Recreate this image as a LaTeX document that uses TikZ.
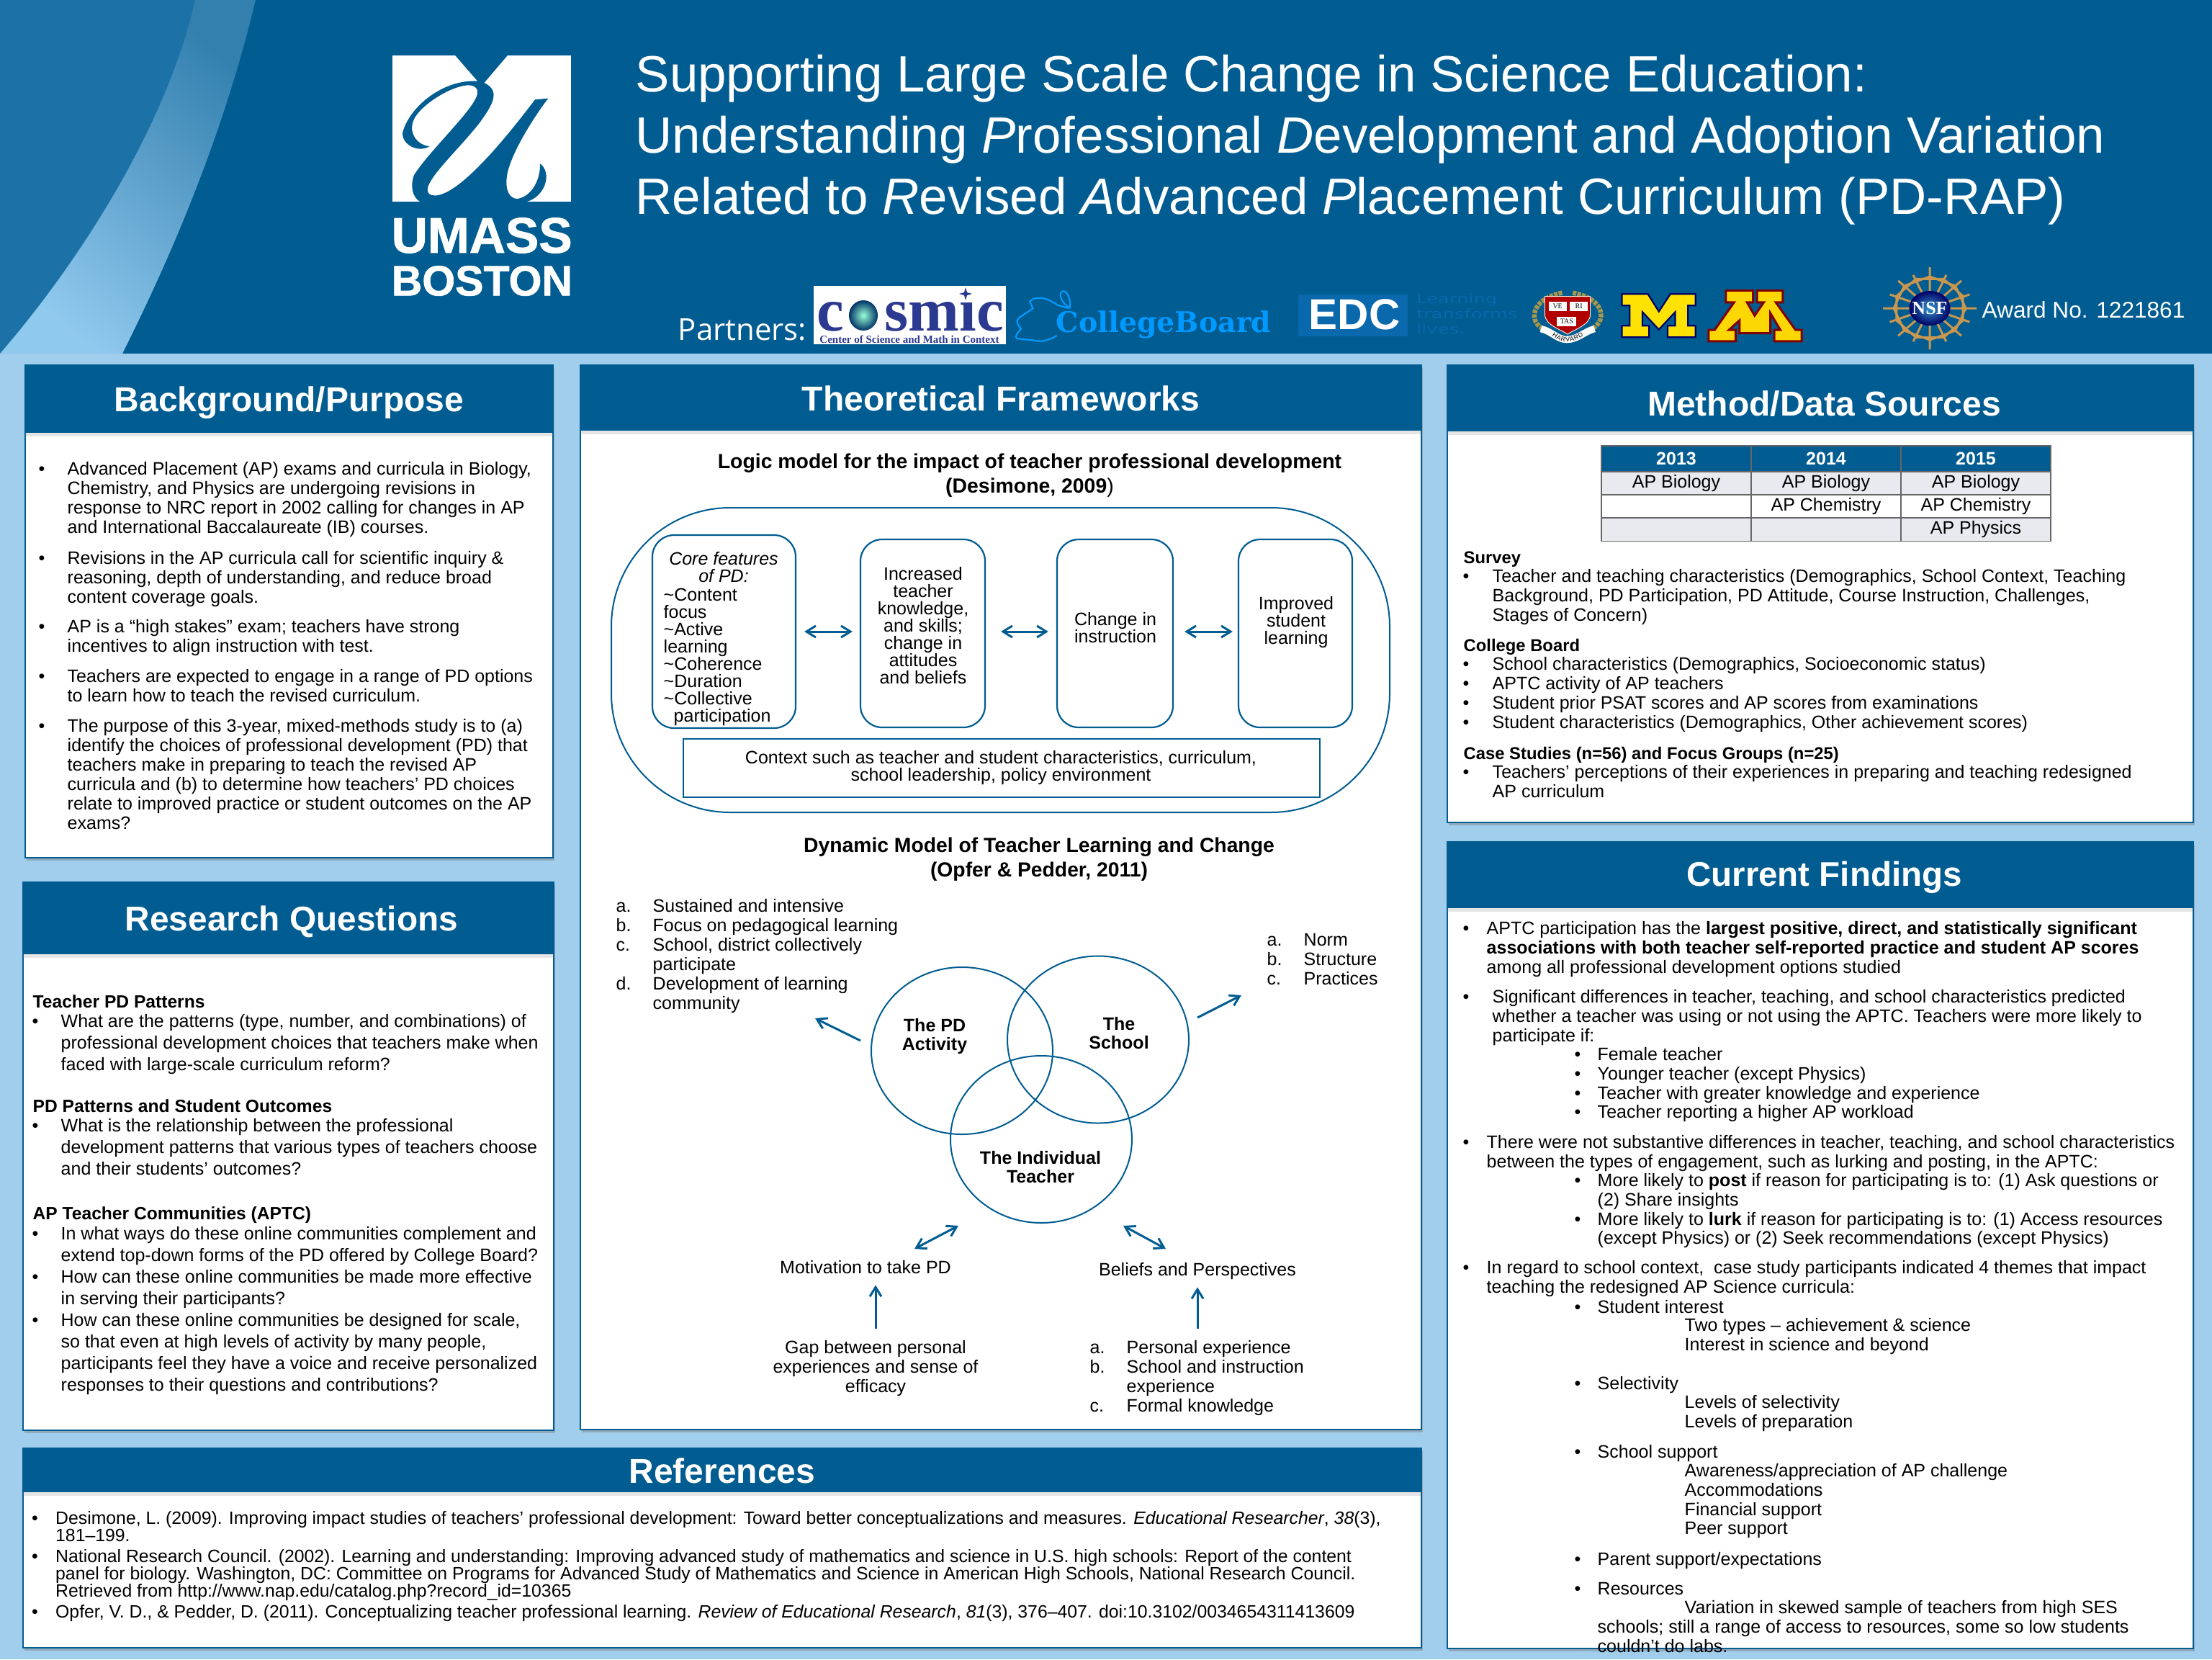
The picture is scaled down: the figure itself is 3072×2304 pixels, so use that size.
\documentclass[tikz,border=0pt]{standalone}
\usepackage{fontspec}
\setmainfont{Liberation Sans}
\newfontfamily\partnerfont{Open Sans}
\newfontfamily\timesfont{Liberation Serif}
\newfontfamily\cbfont{DejaVu Serif}
\newfontfamily\widefont{DejaVu Sans}
\newfontfamily\heavyfont[FakeBold=1.2]{Liberation Sans}
\usetikzlibrary{positioning,shapes.geometric,arrows.meta,shadows,decorations.text}
\definecolor{umblue}{HTML}{005C91}
\definecolor{skyback}{HTML}{A0CEEC}
\definecolor{curtain}{HTML}{1C72A6}
\definecolor{cellgrey}{HTML}{E8EAEF}
\definecolor{cosmicblue}{HTML}{2B3990}
\definecolor{cbblue}{HTML}{0099FF}
\definecolor{edcblue}{HTML}{0A68AC}
\definecolor{nsfgold}{HTML}{C9974F}
\newlength\pxx
\setlength\pxx{0.1mm}
\newcommand{\pxf}[2]{\fontsize{\the\dimexpr#1\pxx\relax}{\the\dimexpr#2\pxx\relax}\selectfont}
\newcommand{\bl}[1][40]{\llap{\hbox to #1\pxx{\textbullet\hss}}}
\newcommand{\tagit}[1]{\llap{\hbox to 51\pxx{#1\hss}}}
\newcommand{\hvfont}{\pxf{9}{9}}
\begin{document}
\begin{tikzpicture}[x=0.1mm,y=-0.1mm,node distance={20.8mm},
    panel/.style = {draw=umblue, fill=white, line width=0.15mm, inner sep=0, drop shadow={shadow xshift=0.15mm, shadow yshift=-0.4mm, opacity=.45}},
    headbar/.style = {fill=umblue, text=white, inner sep=0, text height=4.2mm, text depth=0.7mm, drop shadow={shadow xshift=0mm, shadow yshift=-0.5mm, opacity=.2}},
    txt/.style = {anchor=north west, align=left, inner sep=0, execute at begin node=\strut},
    ctr/.style = {anchor=north, align=center, inner sep=0, execute at begin node=\strut},
    bgt/.style = {txt, font=\pxf{25}{27}},
    rqt/.style = {txt, font=\pxf{25}{30}},
    rqh/.style = {txt, font=\bfseries\pxf{24.6}{30}},
    met/.style = {txt, font=\pxf{25}{27}},
    meh/.style = {txt, font=\bfseries\pxf{23.8}{27}},
    fin/.style = {txt, font=\pxf{25}{26.6}},
    reft/.style = {txt, font=\pxf{24.8}{24}},
    lst/.style = {txt, font=\pxf{25}{27}},
    box/.style = {draw=umblue, line width=0.22mm, rounded corners=3mm, inner sep=0},
    boxt/.style = {ctr, font=\pxf{25}{24}},
    venn/.style = {draw=umblue, ellipse, line width=0.2mm, minimum width=25.2mm, minimum height=23.2mm, inner sep=0},
    vennt/.style = {ctr, font=\bfseries\pxf{25}{26}},
    cell/.style = {draw=black!60, line width=0.15mm, minimum width=20.8mm, minimum height=3.2mm, inner sep=0, font=\pxf{25}{27}},
    hcell/.style = {cell, fill=umblue, text=white, minimum height=3.6mm, font=\bfseries\pxf{25}{27}},
    gcell/.style = {cell, fill=cellgrey},
    arr/.style = {draw=umblue, line width=0.3mm, -{Straight Barb[length=1.3mm,width=1.6mm]}},
    dub/.style = {draw=umblue, line width=0.3mm, {Straight Barb[length=1.3mm,width=1.6mm]}-{Straight Barb[length=1.3mm,width=1.6mm]}},
    cosmictxt/.style = {inner sep=0, text=cosmicblue, font=\timesfont\bfseries\pxf{85}{85}}]

    \useasboundingbox (0,0) rectangle (3072,2304);
    \fill[skyback] (0,0) rectangle (3072,2304);
    \fill[umblue] (0,0) rectangle (3072,491);

    % curtain
    \fill[curtain] (0,0) -- (271,0) .. controls (230,180) and (105,370) .. (0,491) -- cycle;
    \shade[bottom color=skyback!90!cbblue, top color=curtain!90!white, shading angle=-40]
        (271,0) -- (355,0) .. controls (300,230) and (205,420) .. (170,491) -- (0,491) .. controls (105,370) and (230,180) .. (271,0) -- cycle;

    % logo
    \fill[white] (545,77) rectangle (793,280);
    \begin{scope}[shift={(540,70)},x=0.0333mm,y=-0.0333mm]
        \fill[umblue] (370,128) .. controls (230,120) and (90,230) .. (58,340)
            .. controls (50,390) and (120,430) .. (170,400) .. controls (120,395) and (85,350) .. (100,300)
            .. controls (115,240) and (250,150) .. (330,145) .. controls (370,145) and (380,170) .. (360,205)
            .. controls (320,280) and (170,420) .. (105,520) .. controls (90,560) and (95,610) .. (130,631)
            -- (575,631) .. controls (630,615) and (665,560) .. (655,510) .. controls (650,490) and (640,478) .. (630,472)
            .. controls (635,530) and (600,610) .. (535,619) .. controls (490,615) and (485,560) .. (495,510)
            .. controls (515,420) and (610,270) .. (665,200) -- (610,205)
            .. controls (530,310) and (300,610) .. (190,605) .. controls (155,605) and (155,575) .. (175,545)
            .. controls (205,490) and (310,390) .. (380,300) .. controls (430,230) and (470,170) .. (398,135)
            -- (495,21) -- (277,21) -- cycle;
    \end{scope}
    \node[inner sep=0, anchor=west, text=white, font=\heavyfont\bfseries\pxf{69.5}{68}] (umass) at (543,327) {UMASS};
    \node[inner sep=0, anchor=west, text=white, font=\heavyfont\bfseries\pxf{59}{58}] (boston) at (543,390) {BOSTON};

    % title
    \node[txt, text=white, font=\pxf{70.9}{85}] (title) at (882,75.5) {Supporting Large Scale Change in Science Education:\\
        Understanding \textit{P}rofessional \textit{D}evelopment and Adoption Variation\\
        Related to \textit{R}evised \textit{A}dvanced \textit{P}lacement Curriculum (PD-RAP)};

    % partners
    \node[inner sep=0, anchor=west, text=white, font=\partnerfont\pxf{42}{42}] (partners) at (941,458) {Partners:};
    \fill[white] (1130,397) rectangle (1397,478);
    \node[cosmictxt, anchor=base west] (cosc) at (1134,459) {c};
    \node[cosmictxt, anchor=base west] (cosm) at (1228,459) {sm\i c};
    \shade[inner color=green!40!cyan!40!white, outer color=blue!50!black!80!green] (1199,438) ellipse (20 and 21);
    \fill[cosmicblue] (1341,399) -- (1343,406) -- (1350,408) -- (1343,410) -- (1341,417) -- (1339,410) -- (1332,408) -- (1339,406) -- cycle;
    \node[inner sep=0, text=cosmicblue, font=\timesfont\bfseries\pxf{15}{15}] (cosmictag) at (1263,471) {Center of Science and Math in Context};
    \begin{scope}[shift={(1120,385)},x=0.0421mm,y=-0.0333mm]
        \draw[cbblue, line width=0.22mm] (826,243) .. controls (800,265) and (770,272) .. (745,262) -- (695,256)
            .. controls (688,250) and (690,240) .. (708,215) .. controls (695,195) and (690,185) .. (700,170) -- (747,130) -- (737,102)
            .. controls (745,85) and (775,80) .. (800,95) .. controls (820,110) and (840,125) .. (868,128)
            .. controls (875,95) and (860,58) .. (848,58) .. controls (830,60) and (835,100) .. (868,128);
    \end{scope}
    \node[inner sep=0, anchor=base west, text=cbblue, font=\cbfont\bfseries\pxf{39.4}{39}] (cb) at (1466,461) {CollegeBoard};
    \fill[edcblue] (1803,409) rectangle (1955,467);
    \node[inner sep=0, text=white, font=\bfseries\pxf{60}{60}] (edc) at (1881,437) {EDC};
    \node[txt, text=edcblue, xscale=1.44, transform shape, font=\widefont\pxf{18}{21}] (edcline) at (1966,407) {Learning\\transforms\\lives.};

    % harvard
    \begin{scope}[shift={(2100,365)},x=0.0421mm,y=-0.0333mm]
        \draw[draw=black!45!yellow!70!brown, line width=0.65mm, dash pattern=on 0.5mm off 0.15mm] (165,125) .. controls (60,150) and (50,250) .. (110,280);
        \draw[draw=black!45!yellow!70!brown, line width=0.65mm, dash pattern=on 0.5mm off 0.15mm] (200,125) .. controls (310,150) and (315,250) .. (255,280);
        \filldraw[fill=red!70!black, draw=white!80!brown, line width=0.1mm] (108,140) -- (258,140) -- (258,215) .. controls (258,260) and (200,280) .. (183,298)
            .. controls (165,280) and (108,260) .. (108,215) -- cycle;
        \fill[white] (120,162) rectangle (180,200);
        \fill[white] (190,162) rectangle (250,200);
        \fill[white] (148,224) rectangle (212,265);
        \node[inner sep=0, font=\timesfont\pxf{10}{10}] (ve) at (150,181) {VE};
        \node[inner sep=0, font=\timesfont\pxf{10}{10}] (ri) at (220,181) {RI};
        \node[inner sep=0, font=\timesfont\pxf{10}{10}] (tas) at (180,244) {TAS};
        \draw[white, line width=0.95mm] (95,275) .. controls (130,285) and (150,320) .. (180,320) .. controls (215,320) and (240,285) .. (272,275);
        \path[decorate, decoration={text along path, text={|\hvfont|HARVARD}, text align=center, raise=-0.3mm}] (95,275) .. controls (130,285) and (150,320) .. (180,320) .. controls (215,320) and (240,285) .. (272,275);

        % michigan
        \filldraw[fill=yellow!85!orange, draw=blue!40!black, line width=0.22mm] (362,130) -- (448,130) -- (484,203) -- (522,130) -- (605,130) -- (605,178) -- (580,178) -- (580,262)
            -- (605,262) -- (605,310) -- (513,310) -- (513,262) -- (538,262) -- (538,205) -- (484,278) -- (430,205) -- (430,262) -- (452,262) -- (452,310)
            -- (362,310) -- (362,262) -- (388,262) -- (388,178) -- (362,178) -- cycle;

        % minnesota
        \filldraw[fill=yellow!75!orange, draw=red!50!black, line width=0.3mm] (705,115) -- (795,115) -- (795,165) -- (775,165) -- (800,220) -- (830,165) -- (808,165) -- (808,115) -- (893,115)
            -- (893,165) -- (870,165) -- (935,280) -- (955,280) -- (955,327) -- (865,327) -- (865,280) -- (885,280) -- (852,210) -- (852,293) -- (750,293) -- (750,240)
            -- (715,280) -- (737,280) -- (737,327) -- (648,327) -- (648,280) -- (668,280) -- (732,165) -- (705,165) -- cycle;
    \end{scope}

    % nsf
    \begin{scope}[shift={(2680,428)}]
        \draw[nsfgold, line width=0.3mm] (0:65 and 57) -- (180:65 and 57) (22.5:60 and 50) -- (202.5:60 and 50) (45:62 and 54) -- (225:62 and 54) (67.5:60 and 50) -- (247.5:60 and 50)
            (90:65 and 57) -- (270:65 and 57) (112.5:60 and 50) -- (292.5:60 and 50) (135:62 and 54) -- (315:62 and 54) (157.5:60 and 50) -- (337.5:60 and 50);
        \draw[nsfgold, line width=0.3mm] (0:50 and 44) -- (45:50 and 44) -- (90:50 and 44) -- (135:50 and 44) -- (180:50 and 44) -- (225:50 and 44) -- (270:50 and 44) -- (315:50 and 44) -- cycle;
        \draw[nsfgold, line width=0.3mm] (22.5:50 and 44) -- (67.5:50 and 44) -- (112.5:50 and 44) -- (157.5:50 and 44) -- (202.5:50 and 44) -- (247.5:50 and 44) -- (292.5:50 and 44) -- (337.5:50 and 44) -- cycle;
        \shade[inner color=blue!35!cyan!60!gray, outer color=blue!40!black] (0,0) ellipse (28.5 and 24);
        \node[inner sep=0, text=white, font=\timesfont\bfseries\pxf{26}{26}] (nsf) at (0,0) {NSF};
    \end{scope}
    \node[inner sep=0, anchor=west, text=white, font=\pxf{31.6}{31}] (award) at (2752,430) {Award No. 1221861};

    % background panel
    \node[panel, minimum width=73.3mm, minimum height=68.4mm] (bg) at (401.5,849) {};
    \node[headbar, minimum width=73.3mm, minimum height=9.4mm, font=\bfseries\pxf{48}{50}] (bghead) at (401.5,554) {Background/Purpose};
    \node[bgt] (b1) at (93,641) {\bl Advanced Placement (AP) exams and curricula in Biology,\\Chemistry, and Physics are undergoing revisions in\\response to NRC report in 2002 calling for changes in AP\\and International Baccalaureate (IB) courses.};
    \node[bgt] (b2) at (93,764.5) {\bl Revisions in the AP curricula call for scientific inquiry \&\\reasoning, depth of understanding, and reduce broad\\content coverage goals.};
    \node[bgt] (b3) at (93,859.5) {\bl AP is a “high stakes” exam; teachers have strong\\incentives to align instruction with test.};
    \node[bgt] (b4) at (93,928.4) {\bl Teachers are expected to engage in a range of PD options\\to learn how to teach the revised curriculum.};
    \node[bgt] (b5) at (93,997.7) {\bl The purpose of this 3-year, mixed-methods study is to (a)\\identify the choices of professional development (PD) that\\teachers make in preparing to teach the revised AP\\curricula and (b) to determine how teachers’ PD choices\\relate to improved practice or student outcomes on the AP\\exams?};

    % research questions panel
    \node[panel, minimum width=73.7mm, minimum height=76.1mm] (rq) at (400.5,1605.5) {};
    \node[headbar, minimum width=73.7mm, minimum height=10mm, font=\bfseries\pxf{47.8}{50}] (rqhead) at (400.5,1275) {\hspace*{0.9mm}Research Questions};
    \node[rqh] (r1) at (45,1378) {Teacher PD Patterns};
    \node[rqt] (r2) at (84,1408) {\bl What are the patterns (type, number, and combinations) of\\professional development choices that teachers make when\\faced with large-scale curriculum reform?};
    \node[rqh] (r3) at (45,1523) {PD Patterns and Student Outcomes};
    \node[rqt] (r4) at (84,1553) {\bl What is the relationship between the professional\\development patterns that various types of teachers choose\\and their students’ outcomes?};
    \node[rqh] (r5) at (45,1672) {AP Teacher Communities (APTC)};
    \node[rqt] (r6) at (84,1703) {\bl In what ways do these online communities complement and\\extend top-down forms of the PD offered by College Board?\\\bl How can these online communities be made more effective\\in serving their participants?\\\bl How can these online communities be designed for scale,\\so that even at high levels of activity by many people,\\participants feel they have a voice and receive personalized\\responses to their questions and contributions?};

    % frameworks panel
    \node[panel, minimum width=116.8mm, minimum height=147.8mm] (tf) at (1390,1246) {};
    \node[headbar, minimum width=116.8mm, minimum height=9.1mm, font=\bfseries\pxf{48}{50}] (tfhead) at (1390,552.5) {Theoretical Frameworks};
    \node[ctr, font=\bfseries\pxf{28.4}{34}] (logic) at (1430,629) {Logic model for the impact of teacher professional development\\(Desimone, 2009{\mdseries)}};

    \node[draw=umblue, line width=0.2mm, rounded corners=16.5mm, minimum width=108.1mm, minimum height=42.3mm, inner sep=0] (outer) at (1389.5,916.5) {};
    \node[box, minimum width=19.9mm, minimum height=26.8mm] (core) at (1005.5,877) {};
    \node[box, minimum width=17.3mm, minimum height=26.1mm] (know) at (1281.5,879.5) {};
    \node[box, minimum width=16.1mm, minimum height=26.1mm] (change) at (1548.5,879.5) {};
    \node[box, minimum width=15.8mm, minimum height=26.1mm] (improved) at (1799,879.5) {};
    \node[draw=umblue, line width=0.13mm, minimum width=88.4mm, minimum height=8.1mm, inner sep=0] (context) at (1391,1066.5) {};

    \node[boxt, font=\itshape\pxf{25}{24}] (coretop) at (1005,766) {Core features\\of PD:};
    \node[boxt, anchor=north west, align=left] (corelist) at (921,816) {\textasciitilde Content\\focus\\\textasciitilde Active\\learning\\\textasciitilde Coherence\\\textasciitilde Duration\\\textasciitilde Collective\\\hspace*{14\pxx}participation};
    \node[boxt] (knowt) at (1282,787) {Increased\\teacher\\knowledge,\\and skills;\\change in\\attitudes\\and beliefs};
    \node[boxt] (changet) at (1549,850) {Change in\\instruction};
    \node[boxt] (improvedt) at (1800,828) {Improved\\student\\learning};
    \node[boxt, font=\pxf{25}{24}] (contextt) at (1390,1042) {Context such as teacher and student characteristics, curriculum,\\school leadership, policy environment};

    \draw[dub, shorten <=1.1mm, shorten >=1mm] (core.east) -- (core.east -| know.west);
    \draw[dub, shorten <=2.1mm, shorten >=1.1mm] (know.east |- core.east) -- (change.west |- core.east);
    \draw[dub, shorten <=1.5mm, shorten >=0.7mm] (change.east |- core.east) -- (improved.west |- core.east);

    \node[ctr, font=\bfseries\pxf{28.3}{34}] (dynamic) at (1443,1162) {Dynamic Model of Teacher Learning and Change\\(Opfer \& Pedder, 2011)};

    \node[lst] (pdlist) at (906,1248) {\tagit{a.}Sustained and intensive\\\tagit{b.}Focus on pedagogical learning\\\tagit{c.}School, district collectively\\participate\\\tagit{d.}Development of learning\\community};
    \node[lst] (schoollist) at (1810,1296) {\tagit{a.}Norm\\\tagit{b.}Structure\\\tagit{c.}Practices};

    \node[venn] (pd) at (1336,1459) {};
    \node[venn] (school) at (1525,1443.5) {};
    \node[venn] (teacher) at (1446,1582) {};
    \node[vennt] (pdt) at (1298,1414) {The PD\\Activity};
    \node[vennt] (schoolt) at (1554,1412) {The\\School};
    \node[vennt] (teachert) at (1445,1598) {The Individual\\Teacher};

    \coordinate (pdout) at (1195,1445);
    \coordinate (pdtip) at (1132,1414);
    \coordinate (schoolout) at (1663,1413);
    \coordinate (schooltip) at (1724,1382);
    \coordinate (motivtip) at (1270,1734);
    \coordinate (teachl) at (1331,1702);
    \coordinate (teachr) at (1560,1702);
    \coordinate (belieftip) at (1619,1734);
    \draw[arr] (pdout) -- (pdtip);
    \draw[arr] (schoolout) -- (schooltip);
    \draw[dub] (teachl) -- (motivtip);
    \draw[dub] (teachr) -- (belieftip);

    \node[ctr, font=\pxf{25}{27}] (motiv) at (1202,1749) {Motivation to take PD};
    \node[ctr, font=\pxf{25}{27}] (beliefs) at (1663,1752) {Beliefs and Perspectives};
    \node[ctr, font=\pxf{25}{27}] (gap) at (1216,1861) {Gap between personal\\experiences and sense of\\efficacy};
    \node[lst] (beliefslist) at (1564,1861) {\tagit{a.}Personal experience\\\tagit{b.}School and instruction\\experience\\\tagit{c.}Formal knowledge};
    \draw[arr, shorten <=1.6mm, shorten >=0.7mm] (gap.north) -- (gap.north |- motiv.south);
    \draw[arr, shorten <=1.6mm, shorten >=0.7mm] (beliefs.south |- beliefslist.north) -- (beliefs.south);

    % method panel
    \node[panel, minimum width=103.6mm, minimum height=63.5mm] (me) at (2528,824.5) {};
    \node[headbar, minimum width=103.6mm, minimum height=9.2mm, font=\bfseries\pxf{48}{50}] (mehead) at (2528,553) {\raisebox{-0.7mm}{\hspace*{1.1mm}Method/Data Sources}};

    \node[hcell] (c1) at (2328,637) {2013};
    \node[hcell] (c2) [right of=c1] {2014};
    \node[hcell] (c3) [right of=c2] {2015};
    \node[gcell] (d1) at (2328,671) {AP Biology};
    \node[gcell] (d2) [right of=d1] {AP Biology};
    \node[gcell] (d3) [right of=d2] {AP Biology};
    \node[cell] (e1) at (2328,703) {};
    \node[cell] (e2) [right of=e1] {AP Chemistry};
    \node[cell] (e3) [right of=e2] {AP Chemistry};
    \node[gcell] (f1) at (2328,735.5) {};
    \node[gcell] (f2) [right of=f1] {};
    \node[gcell] (f3) [right of=f2] {AP Physics};

    \node[meh] (m1) at (2032,763) {Survey};
    \node[met] (m2) at (2072,789.5) {\bl[41]Teacher and teaching characteristics (Demographics, School Context, Teaching\\Background, PD Participation, PD Attitude, Course Instruction, Challenges,\\Stages of Concern)};
    \node[meh] (m3) at (2032,885) {College Board};
    \node[met] (m4) at (2072,912) {\bl[41]School characteristics (Demographics, Socioeconomic status)\\\bl[41]APTC activity of AP teachers\\\bl[41]Student prior PSAT scores and AP scores from examinations\\\bl[41]Student characteristics (Demographics, Other achievement scores)};
    \node[meh] (m5) at (2032,1034.5) {Case Studies (n=56) and Focus Groups (n=25)};
    \node[met] (m6) at (2072,1061.4) {\bl[41]Teachers’ perceptions of their experiences in preparing and teaching redesigned\\AP curriculum};

    % findings panel
    \node[panel, minimum width=103.6mm, minimum height=112mm] (fi) at (2528,1729) {};
    \node[headbar, minimum width=103.6mm, minimum height=9.2mm, font=\bfseries\pxf{47.5}{50}] (fihead) at (2528,1215) {\raisebox{0.2mm}{\hspace*{1.1mm}Current Findings}};
    \node[fin] (s1) at (2064,1279) {\bl[33]APTC participation has the \textbf{largest positive, direct, and statistically significant}\\\textbf{associations with both teacher self-reported practice and student AP scores}\\among all professional development options studied};
    \node[fin] (s2) at (2072,1374) {\bl[41]Significant differences in teacher, teaching, and school characteristics predicted\\whether a teacher was using or not using the APTC. Teachers were more likely to\\participate if:};
    \node[fin] (s3) at (2218,1454) {\bl[32]Female teacher\\\bl[32]Younger teacher (except Physics)\\\bl[32]Teacher with greater knowledge and experience\\\bl[32]Teacher reporting a higher AP workload};
    \node[fin] (s4) at (2064,1576) {\bl[33]There were not substantive differences in teacher, teaching, and school characteristics\\between the types of engagement, such as lurking and posting, in the APTC:};
    \node[fin] (s5) at (2218,1629) {\bl[32]More likely to \textbf{post} if reason for participating is to: (1) Ask questions or\\(2) Share insights\\\bl[32]More likely to \textbf{lurk} if reason for participating is to: (1) Access resources\\(except Physics) or (2) Seek recommendations (except Physics)};
    \node[fin] (s6) at (2064,1750) {\bl[33]In regard to school context,\ \ case study participants indicated 4 themes that impact\\teaching the redesigned AP Science curricula:};
    \node[fin] (s7) at (2218,1804) {\bl[32]Student interest};
    \node[fin] (s8) at (2339,1830) {Two types – achievement \& science\\Interest in science and beyond};
    \node[fin] (s9) at (2218,1910) {\bl[32]Selectivity};
    \node[fin] (s10) at (2339,1937) {Levels of selectivity\\Levels of preparation};
    \node[fin] (s11) at (2218,2005) {\bl[32]School support};
    \node[fin] (s12) at (2339,2032) {Awareness/appreciation of AP challenge\\Accommodations\\Financial support\\Peer support};
    \node[fin] (s13) at (2218,2154) {\bl[32]Parent support/expectations};
    \node[fin] (s14) at (2218,2195) {\bl[32]Resources};
    \node[fin] (s15) at (2218,2222) {\hspace*{121\pxx}Variation in skewed sample of teachers from high SES\\schools; still a range of access to resources, some so low students\\couldn’t do labs.};

    % references panel
    \node[panel, minimum width=194.2mm, minimum height=27.7mm] (re) at (1003,2149.5) {};
    \node[headbar, minimum width=194.2mm, minimum height=6.1mm, font=\bfseries\pxf{48}{50}] (rehead) at (1003,2041.5) {References};
    \node[reft] (f1a) at (76.5,2098) {\bl[33]Desimone, L. (2009). Improving impact studies of teachers’ professional development: Toward better conceptualizations and measures. \textit{Educational Researcher}, \textit{38}(3),\\181–199.};
    \node[reft] (f2a) at (76.5,2151) {\bl[33]National Research Council. (2002). Learning and understanding: Improving advanced study of mathematics and science in U.S. high schools: Report of the content\\panel for biology. Washington, DC: Committee on Programs for Advanced Study of Mathematics and Science in American High Schools, National Research Council.\\Retrieved from http://www.nap.edu/catalog.php?record\_id=10365};
    \node[reft] (f3a) at (76.5,2228) {\bl[33]Opfer, V. D., \& Pedder, D. (2011). Conceptualizing teacher professional learning. \textit{Review of Educational Research}, \textit{81}(3), 376–407. doi:10.3102/0034654311413609};
\end{tikzpicture}
\end{document}
